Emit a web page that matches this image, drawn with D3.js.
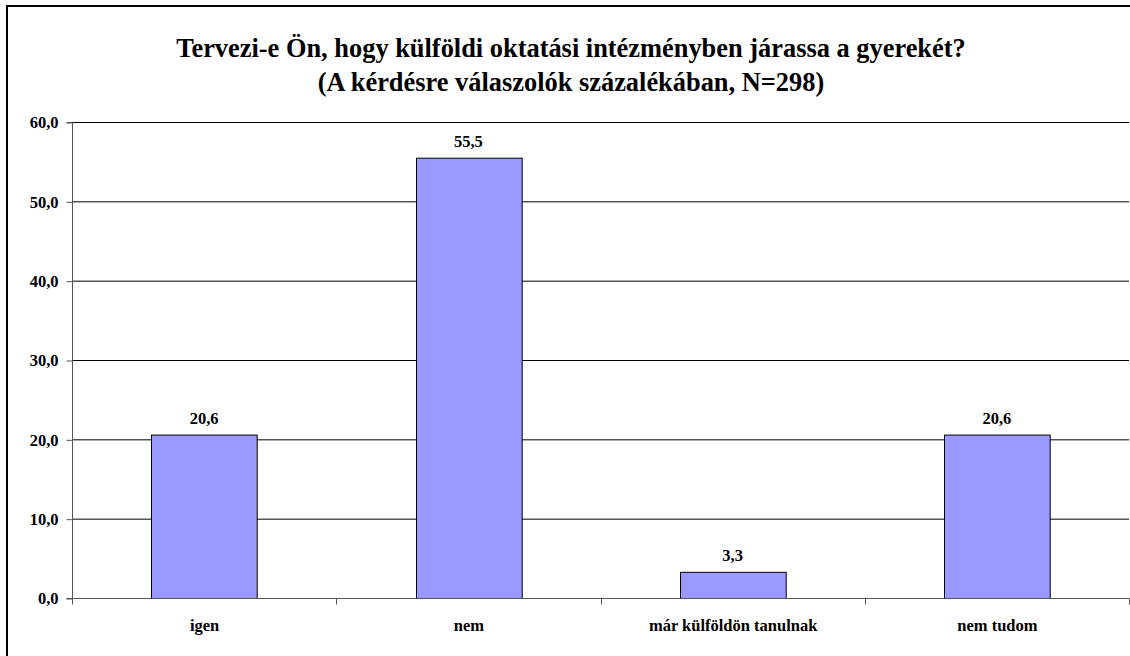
<!DOCTYPE html>
<html><head><meta charset="utf-8">
<script src="https://cdn.jsdelivr.net/npm/d3@7"></script>
<style>body{margin:0;background:#fff}svg{display:block}text{font-family:"Liberation Serif","DejaVu Serif",serif;font-weight:bold}</style>
</head><body>
<script>
const categories = ["igen", "nem", "már külföldön tanulnak", "nem tudom"];
const values = [20.6, 55.5, 3.3, 20.6];
const yTicks = [0, 10, 20, 30, 40, 50, 60];
const titleLines = ["Tervezi-e Ön, hogy külföldi oktatási intézményben járassa a gyerekét?", "(A kérdésre válaszolók százalékában, N=298)"];

const W = 1130, H = 656;
const svg = d3.select("body").append("svg").attr("width", W).attr("height", H);
svg.append("rect").attr("x", 7).attr("y", 6).attr("width", W + 10).attr("height", H + 10)
  .attr("fill", "#fff").attr("stroke", "#000").attr("stroke-width", 2);

const pLeft = 72, pRight = 1129, pTop = 122, pBottom = 598;
const x = d3.scaleBand().domain(categories).range([pLeft, pRight]).paddingInner(0.6).paddingOuter(0.3);
const xb = d3.scaleBand().domain(categories).range([pLeft, pRight]);
const y = d3.scaleLinear().domain([0, 60]).range([pBottom, pTop]);
const fmt = v => d3.format(".1f")(v).replace(".", ",");

svg.append("g").selectAll("text").data(titleLines).join("text")
  .attr("x", 571).attr("y", (d, i) => 57 + i * 34).attr("text-anchor", "middle")
  .attr("font-size", 26.4).text(d => d);

// gridlines
svg.append("g").selectAll("line").data(yTicks.filter(t => t > 0)).join("line")
  .attr("x1", pLeft).attr("x2", pRight).attr("y1", d => y(d) + 0.5).attr("y2", d => y(d) + 0.5)
  .attr("stroke", "#000").attr("stroke-width", 1);

// y axis
const ya = svg.append("g").attr("transform", `translate(${pLeft + 0.5},0.5)`)
  .call(d3.axisLeft(y).tickValues(yTicks).tickFormat(fmt).tickSize(6).tickPadding(8));
ya.select(".domain").attr("stroke", "#555").attr("d", `M-6,${y(60)}H0V${y(0)}H-6`);
ya.selectAll(".tick line").attr("stroke", "#555");
ya.selectAll("text").attr("font-size", 16.5).attr("fill", "#000").attr("font-family", null);

// bars
svg.append("g").selectAll("rect").data(values).join("rect")
  .attr("x", (d, i) => Math.round(x(categories[i])) + 0.5).attr("width", x.bandwidth())
  .attr("y", d => y(d) + 0.5).attr("height", d => y(0) - y(d))
  .attr("fill", "#9999FF").attr("stroke", "#000").attr("stroke-width", 1);

// x axis
const xa = svg.append("g").attr("transform", `translate(0.5,${pBottom + 0.5})`);
xa.append("line").attr("x1", pLeft).attr("x2", pRight).attr("stroke", "#555");
xa.selectAll(".tk").data(categories.map(c => xb(c)).concat([pRight])).join("line").attr("class", "tk")
  .attr("x1", d => Math.round(d)).attr("x2", d => Math.round(d)).attr("y1", 0).attr("y2", 6).attr("stroke", "#555");
xa.selectAll(".lbl").data(categories).join("text").attr("class", "lbl")
  .attr("x", d => x(d) + x.bandwidth() / 2).attr("y", 32).attr("text-anchor", "middle")
  .attr("font-size", 16.5).text(d => d);

// value labels
svg.append("g").selectAll("text").data(values).join("text")
  .attr("x", (d, i) => x(categories[i]) + x.bandwidth() / 2).attr("y", d => y(d) - 11)
  .attr("text-anchor", "middle").attr("font-size", 16.5)
  .text(d => fmt(d));
</script>
</body></html>
